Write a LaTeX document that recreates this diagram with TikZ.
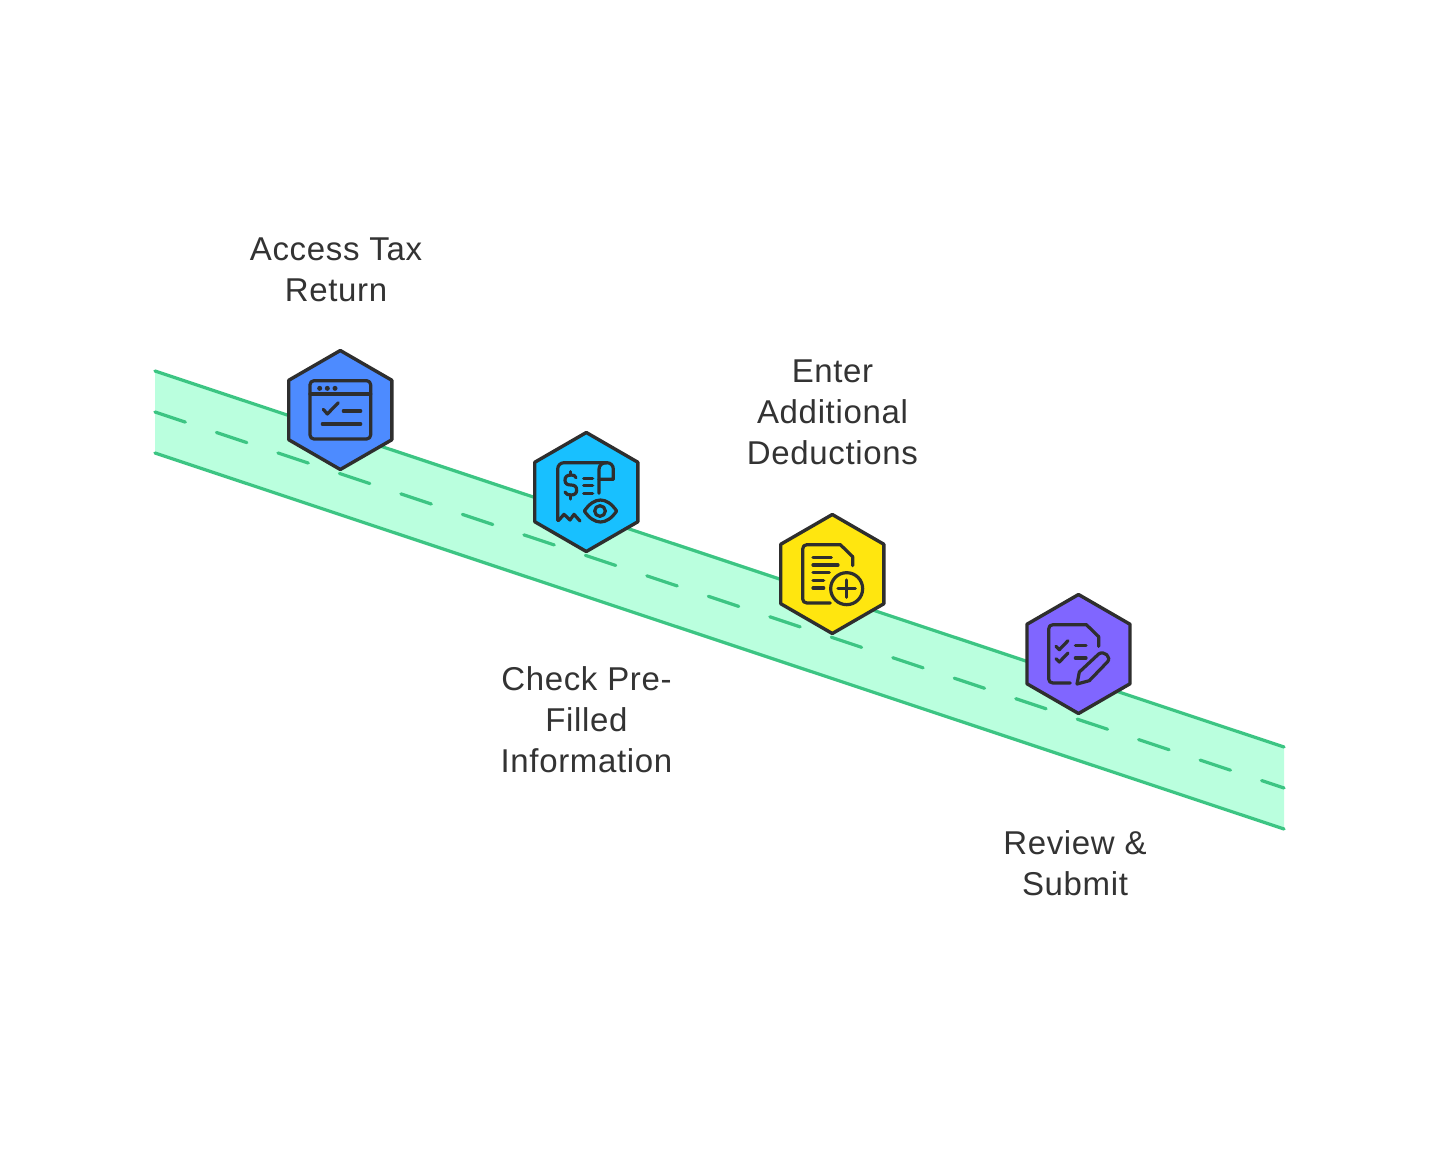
\documentclass[tikz,border=0pt]{standalone}
\usepackage{fontspec}
\setmainfont[LetterSpace=2]{Liberation Sans}
\usetikzlibrary{shapes.geometric}
\definecolor{bandfill}{HTML}{BAFFDE}
\definecolor{bandline}{HTML}{3CC583}
\definecolor{ink}{HTML}{2E2E2E}
\definecolor{txt}{HTML}{333333}
\definecolor{hblue}{HTML}{4D8BFF}
\definecolor{hcyan}{HTML}{18C0FF}
\definecolor{hyellow}{HTML}{FFE60F}
\definecolor{hpurple}{HTML}{8066FF}
\tikzset{
  hexnode/.style={regular polygon,regular polygon sides=6,shape border rotate=30,minimum size=119pt,inner sep=0pt,outer sep=0pt,draw=ink,line width=3.4pt,line join=round},
  bandedge/.style={draw=bandline,line width=3.2pt,line cap=round},
  bandmid/.style={bandedge,dash pattern=on 32pt off 32.8pt},
  label/.style={align=center,text=txt,font=\fontsize{33pt}{41pt}\selectfont,inner sep=0pt},
  iconline/.style={draw=ink,line width=3.2pt,line cap=round,line join=round},
  icon/.style={x=0.33333pt,y=-0.33333pt,iconline}
}
\begin{document}
\begin{tikzpicture}[x=1pt,y=-1pt]
\useasboundingbox[fill=white] (0,0) rectangle (1440,1173);
\coordinate (tl) at (155,371); \coordinate (tr) at (1284,747);
\coordinate (ml) at (155,412); \coordinate (mr) at (1284,788);
\coordinate (bl) at (155,453); \coordinate (br) at (1284,829);
\fill[bandfill] (tl) -- (tr) -- (br) -- (bl) -- cycle;
\draw[bandedge] (tl) -- (tr);
\draw[bandedge] (bl) -- (br);
\draw[bandmid] (ml) -- (mr);

\node[hexnode,fill=hblue] (h1) at (340.3,410) {};
\node[hexnode,fill=hcyan] (h2) at (586.3,492) {};
\node[hexnode,fill=hyellow] (h3) at (832.3,574) {};
\node[hexnode,fill=hpurple] (h4) at (1078.5,654) {};

\node[label] (t1) at (336,269.5) {Access Tax\\Return};
\node[label] (t2) at (586.5,720) {Check Pre-\\Filled\\Information};
\node[label] (t3) at (832.5,412.5) {Enter\\Additional\\Deductions};
\node[label] (t4) at (1075,863.5) {Review \&\\Submit};

% icon 1
\begin{scope}[shift={(270,340)},icon]
\draw[rounded corners=4pt] (120,122) rectangle (302,297);
\draw (120,162) -- (302,162);
\fill[ink,draw=none] (149,145) circle (7.5) (172,145) circle (7.5) (195,145) circle (7.5);
\draw (160,208) -- (172,222) -- (205,188);
\draw (220,213) -- (272,213);
\draw (157,252) -- (272,252);
\end{scope}
% icon 2
\begin{scope}[shift={(516,422)},icon]
\draw (125,295) -- (125,142) .. controls (125,130) and (133,122) .. (145,122) -- (272,122) .. controls (284,122) and (292,130) .. (292,142) -- (292,172) -- (249,172);
\draw (272,122) .. controls (258,122) and (249,130) .. (249,142) -- (249,214);
\draw (127,296) -- (144,277) -- (162,294) -- (174,277) -- (192,297);
\draw (205,267) .. controls (235,223) and (272,223) .. (302,267) .. controls (272,311) and (235,311) .. (205,267) -- cycle;
\draw (252,267) circle (16);
\draw (180,167) .. controls (178,160) and (172,159) .. (165,159) .. controls (152,159) and (147,165) .. (147,175) .. controls (147,186) and (155,189) .. (165,189) .. controls (175,189) and (182,193) .. (182,204) .. controls (182,214) and (176,219) .. (165,219) .. controls (156,219) and (150,217) .. (147,210);
\draw (164,149) -- (164,159) (164,219) -- (164,231);
\draw (203,169) -- (230,169) (203,191) -- (230,191) (203,214) -- (230,214);
\end{scope}
% icon 3
\begin{scope}[shift={(762,504)},icon]
\draw (205,297) -- (135,297) .. controls (127,297) and (122,292) .. (122,285) -- (122,135) .. controls (122,127) and (127,122) .. (135,122) -- (235,122) -- (272,158) -- (272,185);
\draw (153,160) -- (208,160) (153,183) -- (228,183) (153,206) -- (202,206) (153,229) -- (185,229) (153,252) -- (185,252);
\draw (254,254) circle (48);
\draw (254,228) -- (254,280) (228,254) -- (280,254);
\end{scope}
% icon 4
\begin{scope}[shift={(1008,584)},icon]
\draw (187,297) -- (135,297) .. controls (127,297) and (122,292) .. (122,285) -- (122,135) .. controls (122,127) and (127,122) .. (135,122) -- (235,122) -- (272,158) -- (272,187);
\draw (144,187) -- (154,197) -- (180,170);
\draw (144,224) -- (154,234) -- (180,207);
\draw (202,184) -- (234,184) (202,222) -- (234,222);
\draw (207,300) -- (214,264) -- (272,210) .. controls (288,198) and (312,220) .. (298,234) -- (244,290) -- cycle;
\end{scope}
\end{tikzpicture}
\end{document}
